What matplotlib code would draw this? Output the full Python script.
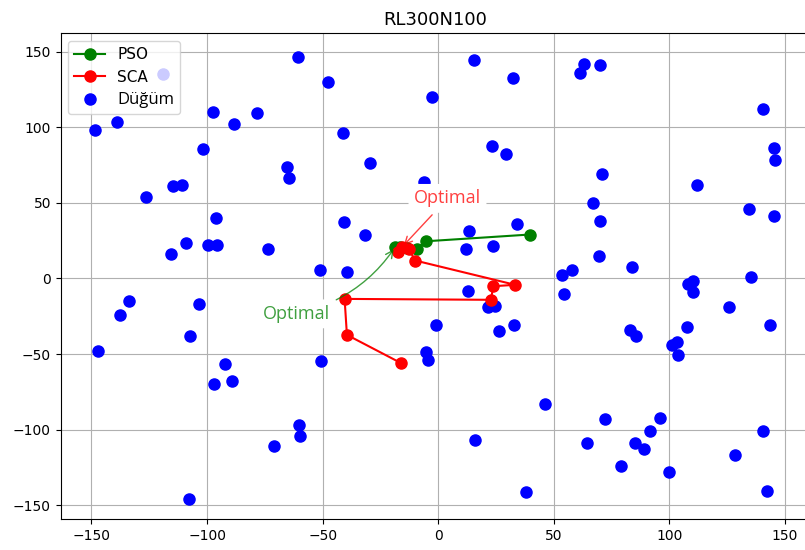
import matplotlib
matplotlib.use("Agg")
import matplotlib.pyplot as plt

title = "RL300N100"

node_x = [-60.7, -119.0, -148.5, -138.8, -97.5, -88.3, -78.2, -47.8, -41.4, -101.6,
          -65.5, -64.6, -29.3, -126.6, -114.6, -111.0, -96.2, -115.7, -109.1, -99.7,
          -95.5, -73.7, -40.8, -31.6, -51.1, -39.4, 15.3, 32.2, -2.7, 63.1,
          61.2, 70.1, 140.4, 23.1, 29.4, 145.2, 145.8, 70.7, 112.1, -6.1,
          67.0, 70.1, 134.6, 145.2, 34.1, 13.4, 12.1, 23.8, 69.6, 83.7,
          53.4, 57.9, 108.0, 110.4, 110.1, 135.1, 54.5, 12.7, 21.5, 24.7,
          -0.9, 26.3, 32.8, 125.7, 143.7, 107.5, 83.0, 85.7, 101.2, 103.2,
          103.6, -5.3, -4.6, 46.2, 72.2, 96.0, 91.5, 140.4, 16.0, 64.5,
          85.0, 89.0, 128.3, 79.1, 99.7, 37.8, 142.3, -133.6, -137.5, -147.3,
          -103.3, -107.2, -92.2, -96.8, -89.0, -50.6, -60.2, -59.6, -71.1, -107.9]
node_y = [146.6, 135.1, 98.5, 103.5, 110.4, 102.4, 109.3, 130.0, 96.2, 85.4,
          73.7, 66.7, 76.6, 53.9, 60.9, 62.0, 40.2, 16.4, 23.4, 22.3,
          22.3, 19.4, 37.1, 29.1, 5.7, 4.6, 144.8, 132.9, 120.1, 142.2,
          136.0, 141.1, 112.1, 87.4, 82.6, 86.5, 78.6, 68.9, 62.0, 63.8,
          50.1, 38.2, 46.1, 41.1, 36.2, 31.3, 19.4, 21.4, 14.6, 7.7,
          2.6, 5.7, -3.8, -1.8, -9.1, 1.0, -10.2, -8.4, -19.0, -18.3,
          -30.7, -34.9, -30.7, -19.0, -30.7, -31.8, -34.0, -38.0, -43.7, -41.7,
          -50.8, -48.8, -53.9, -83.2, -93.2, -92.0, -101.1, -100.9, -107.1, -108.8,
          -108.8, -113.0, -116.8, -123.8, -127.8, -141.5, -140.4, -15.2, -24.1, -47.7,
          -17.2, -38.0, -56.7, -69.5, -67.5, -54.7, -96.9, -104.2, -111.0, -145.7]

pso_x = [39.8, -5.5, -9.2, -13.5, -16.5, -18.6]
pso_y = [29.1, 24.6, 19.8, 20.3, 21.0, 20.8]

sca_x = [-16.3, -39.5, -40.5, 22.8, 23.8, 33.3, -10.0, -12.8, -17.2, -15.7]
sca_y = [-55.8, -37.3, -13.5, -14.1, -5.1, -4.2, 11.9, 19.7, 17.4, 20.7]

fig = plt.figure(figsize=(8.05, 5.5), dpi=100)
W, H = 805, 550
left, right, top, bottom = 60.7, 809.3, 33.3, 519.3
ax = fig.add_axes([left / W, 1 - bottom / H, (right - left) / W, (bottom - top) / H])

ax.plot(pso_x, pso_y, 'g-o', label='PSO', markersize=8, linewidth=1.5, zorder=3)
ax.plot(sca_x, sca_y, 'r-o', label='SCA', markersize=8, linewidth=1.5, zorder=3)
ax.plot(node_x, node_y, 'bo', label='Düğüm', markersize=8, zorder=2)

ax.annotate('Optimal', xy=(pso_x[-1], pso_y[-1]), xytext=(-61.5, -23.4),
            ha='center', va='center', color='green', alpha=0.75, fontsize=13,
            family='Open Sans',
            bbox=dict(boxstyle='round', fc='white', ec='none'),
            arrowprops=dict(arrowstyle='->', color='green', alpha=0.75,
                            connectionstyle='arc3,rad=0.2'), zorder=4)
ax.annotate('Optimal', xy=(sca_x[-1], sca_y[-1]), xytext=(4.0, 53.0),
            ha='center', va='center', color='red', alpha=0.75, fontsize=13,
            family='Open Sans',
            bbox=dict(boxstyle='round', fc='white', ec='none'),
            arrowprops=dict(arrowstyle='->', color='red', alpha=0.75,
                            connectionstyle='arc3,rad=0'), zorder=4)

ax.set_xlim(-163.3, 160.5)
ax.set_ylim(-159.3, 162.2)
ax.grid(True)
ax.set_title(title, fontsize=13)
ax.tick_params(labelsize=10)
leg = ax.legend(loc='upper left', fontsize=11)
leg.get_texts()[2].set_family('Open Sans')
leg.get_texts()[2].set_fontsize(12)

fig.savefig('out.png', dpi=100)
